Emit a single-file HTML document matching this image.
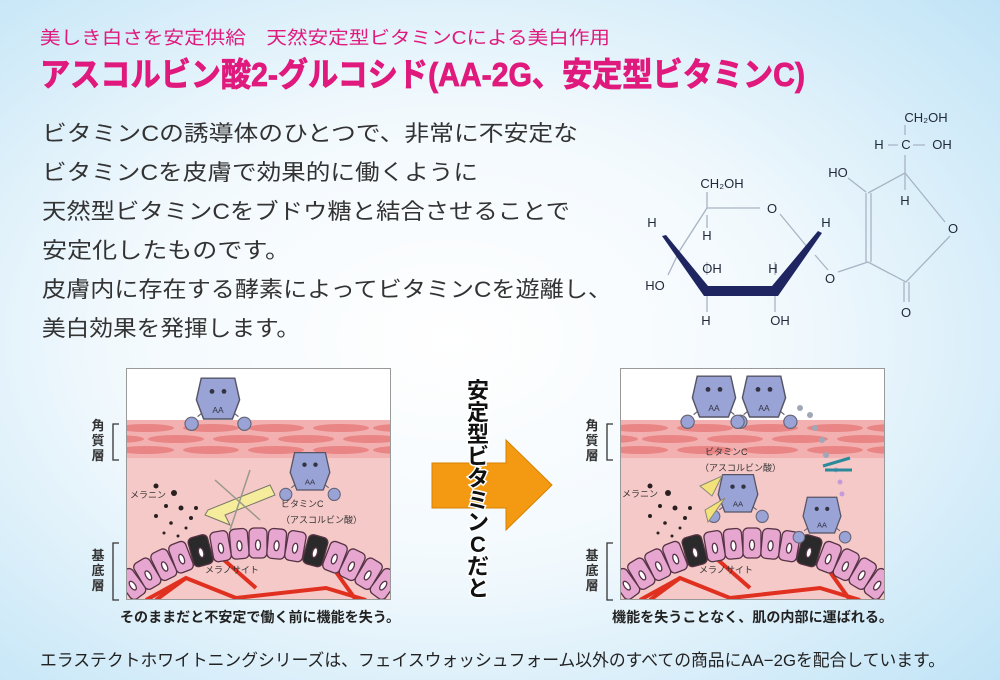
<!DOCTYPE html>
<html><head><meta charset="utf-8">
<style>
html,body{margin:0;padding:0;width:1000px;height:680px;overflow:hidden}
svg{display:block}
text{font-family:"Liberation Sans","Noto Sans CJK JP",sans-serif}
</style></head><body>
<svg width="1000" height="680" viewBox="0 0 1000 680" xmlns="http://www.w3.org/2000/svg">
<defs>
<radialGradient id="bg" cx="0.45" cy="0.5" r="0.75">
<stop offset="0" stop-color="#ffffff"/><stop offset="0.45" stop-color="#f2f9fd"/><stop offset="1" stop-color="#bfe3f6"/>
</radialGradient>
<clipPath id="pc"><rect x="0" y="0" width="265" height="232"/></clipPath>
<g id="char">
<circle cx="-22" cy="24" r="5.5" fill="#9aa3d6" stroke="#667" stroke-width="1"/>
<circle cx="22" cy="24" r="5.5" fill="#9aa3d6" stroke="#667" stroke-width="1"/>
<path d="M-17 18 L-12 14 M17 18 L12 14" stroke="#667"/>
<path d="M-14 -14 L14 -14 L18 4 L12 20 L-12 20 L-18 4 Z" fill="#9aa3d6" stroke="#556" stroke-width="1.2"/>
<circle cx="-5" cy="-3" r="2" fill="#334"/><circle cx="5" cy="-3" r="2" fill="#334"/>
<text x="0" y="15" font-size="7" text-anchor="middle" fill="#334">AA</text>
</g>
<g id="panel">
<g clip-path="url(#pc)">
<rect x="0" y="0" width="265" height="232" fill="#f6c9c9"/>
<rect x="0" y="0" width="265" height="52" fill="#fff"/>
<rect x="0" y="52" width="265" height="38" fill="#f3b0b0"/>
<g fill="#e98585">
<ellipse cx="20" cy="60" rx="28" ry="4"/><ellipse cx="85" cy="60" rx="28" ry="4"/><ellipse cx="150" cy="60" rx="28" ry="4"/><ellipse cx="215" cy="60" rx="28" ry="4"/><ellipse cx="275" cy="60" rx="28" ry="4"/>
<ellipse cx="50" cy="71" rx="28" ry="4"/><ellipse cx="115" cy="71" rx="28" ry="4"/><ellipse cx="180" cy="71" rx="28" ry="4"/><ellipse cx="245" cy="71" rx="28" ry="4"/><ellipse cx="-10" cy="71" rx="28" ry="4"/>
<ellipse cx="20" cy="82" rx="28" ry="4"/><ellipse cx="85" cy="82" rx="28" ry="4"/><ellipse cx="150" cy="82" rx="28" ry="4"/><ellipse cx="215" cy="82" rx="28" ry="4"/><ellipse cx="275" cy="82" rx="28" ry="4"/>
</g>
<g stroke="#e03020" stroke-width="4" fill="none">
<path d="M30 232 L60 210 L110 230 L200 220 L240 232"/><path d="M90 185 L130 220 M200 190 L230 232 M60 210 L20 232"/>
</g>
<g stroke="#553344" stroke-width="1.3">
<g transform="translate(5.6 216) rotate(-36)"><rect x="-9" y="-15" width="18" height="30" rx="5" fill="#e6a6d0"/><ellipse cx="0" cy="2" rx="2.5" ry="5" fill="#fff"/></g>
<g transform="translate(21.3 205.7) rotate(-31)"><rect x="-9" y="-15" width="18" height="30" rx="5" fill="#e6a6d0"/><ellipse cx="0" cy="2" rx="2.5" ry="5" fill="#fff"/></g>
<g transform="translate(37.8 196.7) rotate(-26)"><rect x="-9" y="-15" width="18" height="30" rx="5" fill="#e6a6d0"/><ellipse cx="0" cy="2" rx="2.5" ry="5" fill="#fff"/></g>
<g transform="translate(55 189.2) rotate(-21)"><rect x="-9" y="-15" width="18" height="30" rx="5" fill="#e6a6d0"/><ellipse cx="0" cy="2" rx="2.5" ry="5" fill="#fff"/></g>
<g transform="translate(74.6 182.7) rotate(-15.5)"><rect x="-10" y="-15" width="20" height="30" rx="5" fill="#2a2a2a"/><ellipse cx="0" cy="2" rx="2.5" ry="5" fill="#fff"/></g>
<g transform="translate(94.6 178.2) rotate(-10)"><rect x="-9" y="-15" width="18" height="30" rx="5" fill="#e6a6d0"/><ellipse cx="0" cy="2" rx="2.5" ry="5" fill="#fff"/></g>
<g transform="translate(113.3 175.8) rotate(-5)"><rect x="-9" y="-15" width="18" height="30" rx="5" fill="#e6a6d0"/><ellipse cx="0" cy="2" rx="2.5" ry="5" fill="#fff"/></g>
<g transform="translate(132 175)"><rect x="-9" y="-15" width="18" height="30" rx="5" fill="#e6a6d0"/><ellipse cx="0" cy="2" rx="2.5" ry="5" fill="#fff"/></g>
<g transform="translate(150.7 175.8) rotate(5)"><rect x="-9" y="-15" width="18" height="30" rx="5" fill="#e6a6d0"/><ellipse cx="0" cy="2" rx="2.5" ry="5" fill="#fff"/></g>
<g transform="translate(169.4 178.2) rotate(10)"><rect x="-9" y="-15" width="18" height="30" rx="5" fill="#e6a6d0"/><ellipse cx="0" cy="2" rx="2.5" ry="5" fill="#fff"/></g>
<g transform="translate(189.4 182.7) rotate(15.5)"><rect x="-10" y="-15" width="20" height="30" rx="5" fill="#2a2a2a"/><ellipse cx="0" cy="2" rx="2.5" ry="5" fill="#fff"/></g>
<g transform="translate(209 189.2) rotate(21)"><rect x="-9" y="-15" width="18" height="30" rx="5" fill="#e6a6d0"/><ellipse cx="0" cy="2" rx="2.5" ry="5" fill="#fff"/></g>
<g transform="translate(226.2 196.7) rotate(26)"><rect x="-9" y="-15" width="18" height="30" rx="5" fill="#e6a6d0"/><ellipse cx="0" cy="2" rx="2.5" ry="5" fill="#fff"/></g>
<g transform="translate(242.7 205.7) rotate(31)"><rect x="-9" y="-15" width="18" height="30" rx="5" fill="#e6a6d0"/><ellipse cx="0" cy="2" rx="2.5" ry="5" fill="#fff"/></g>
<g transform="translate(258.4 216) rotate(36)"><rect x="-9" y="-15" width="18" height="30" rx="5" fill="#e6a6d0"/><ellipse cx="0" cy="2" rx="2.5" ry="5" fill="#fff"/></g>
</g>
<g fill="#2a2020">
<circle cx="30" cy="118" r="2.5"/><circle cx="48" cy="125" r="3"/><circle cx="40" cy="138" r="2"/><circle cx="55" cy="140" r="2.5"/><circle cx="30" cy="148" r="2"/><circle cx="65" cy="150" r="2"/><circle cx="45" cy="155" r="1.8"/><circle cx="38" cy="165" r="1.5"/><circle cx="52" cy="168" r="1.5"/><circle cx="60" cy="160" r="1.5"/><circle cx="70" cy="140" r="2"/>
</g>
</g>
<rect x="0.5" y="0.5" width="264" height="231" fill="none" stroke="#999" stroke-width="1"/>
</g>
</defs>
<rect width="1000" height="680" fill="url(#bg)"/>

<text x="40" y="44" font-size="18" fill="#e0197d" textLength="570" lengthAdjust="spacingAndGlyphs">美しき白さを安定供給　天然安定型ビタミンCによる美白作用</text>
<text x="40" y="86" font-size="33" font-weight="bold" fill="#e0197d" stroke="#e0197d" stroke-width="0.8" textLength="765" lengthAdjust="spacingAndGlyphs">アスコルビン酸2-グルコシド(AA-2G、安定型ビタミンC)</text>

<g font-size="22" fill="#333">
<text x="42" y="141" textLength="536" lengthAdjust="spacingAndGlyphs">ビタミンCの誘導体のひとつで、非常に不安定な</text>
<text x="42" y="180" textLength="436" lengthAdjust="spacingAndGlyphs">ビタミンCを皮膚で効果的に働くように</text>
<text x="42" y="219" textLength="528" lengthAdjust="spacingAndGlyphs">天然型ビタミンCをブドウ糖と結合させることで</text>
<text x="42" y="258" textLength="248" lengthAdjust="spacingAndGlyphs">安定化したものです。</text>
<text x="42" y="297" textLength="570" lengthAdjust="spacingAndGlyphs">皮膚内に存在する酵素によってビタミンCを遊離し、</text>
<text x="42" y="336" textLength="258" lengthAdjust="spacingAndGlyphs">美白効果を発揮します。</text>
</g>

<!-- chemistry -->
<g stroke="#a8b4c4" stroke-width="1.3" fill="none">
<path d="M707 192 L707 208 L760 208"/><path d="M780 214 L808 248"/><path d="M707 208 L680 250 L668 275"/>
<path d="M707 215 L707 228"/><path d="M707 292 L707 312"/><path d="M775 292 L775 312"/><path d="M775 262 L775 275 M707 262 L707 275"/>
<path d="M815 255 L828 270"/><path d="M838 272 L868 262"/>
<path d="M866 193 L866 262 M871 193 L871 262"/>
<path d="M868 262 L906 282 L950 236"/><path d="M868 193 L905 173 L945 222"/>
<path d="M905 173 L905 155 M905 173 L905 190"/><path d="M905 135 L905 125"/>
<path d="M888 145 L898 145 M913 145 L925 145"/>
<path d="M904 282 L904 302 M909 282 L909 302"/><path d="M848 178 L866 192"/>
</g>
<path d="M662 236 L666 235 L708 286 L772 286 L818 231 L822 233 L778 296 L704 296 Z" fill="#1e2560"/>
<g font-size="13" fill="#222a3a" text-anchor="middle">
<text x="722" y="188">CH₂OH</text><text x="772" y="213">O</text><text x="826" y="227">H</text><text x="652" y="227">H</text>
<text x="707" y="240">H</text><text x="655" y="290">HO</text><text x="712" y="273">OH</text><text x="773" y="273">H</text>
<text x="706" y="325">H</text><text x="780" y="325">OH</text><text x="830" y="283">O</text>
<text x="838" y="177">HO</text><text x="905" y="205">H</text><text x="953" y="233">O</text><text x="906" y="317">O</text>
<text x="926" y="122">CH₂OH</text><text x="879" y="149">H</text><text x="906" y="149">C</text><text x="942" y="149">OH</text>
</g>

<!-- panels -->
<use href="#panel" transform="translate(126 368)"/>
<use href="#panel" transform="translate(620 368)"/>

<!-- left panel extras -->
<use href="#char" transform="translate(218 395) scale(1.2)"/>
<use href="#char" transform="translate(310 468) scale(1.1)"/>
<path d="M208 510 L270 485 L275 495 L225 515 L230 525 L205 515 Z" fill="#f5ec9c" stroke="#776" stroke-width="1"/>
<path d="M215 480 L260 520 M250 470 L230 530" stroke="#998" stroke-width="1.5"/>
<g font-size="9" fill="#333"><text x="130" y="498">メラニン</text><text x="281" y="507">ビタミンC</text><text x="281" y="523">（アスコルビン酸）</text><text x="205" y="573">メラノサイト</text></g>

<!-- right panel extras -->
<use href="#char" transform="translate(714 393) scale(1.2)"/>
<use href="#char" transform="translate(764 393) scale(1.2)"/>
<use href="#char" transform="translate(738 490) scale(1.1)"/>
<use href="#char" transform="translate(822 512) scale(1.05)"/>
<g fill="#a0a8b8"><circle cx="800" cy="408" r="3"/><circle cx="810" cy="415" r="3"/><circle cx="815" cy="428" r="3"/><circle cx="822" cy="440" r="3"/><circle cx="826" cy="455" r="3"/></g>
<g fill="#c59ad8"><circle cx="836" cy="470" r="2.5"/><circle cx="840" cy="482" r="2.5"/><circle cx="842" cy="494" r="2.5"/></g>
<path d="M823 466 L850 458 M825 470 L852 470" stroke="#2a8a9a" stroke-width="3"/>
<path d="M700 486 L722 476 L712 496 Z M705 510 L725 498 L708 522 Z" fill="#f3e27a" stroke="#887" stroke-width="1"/>
<g font-size="9" fill="#333"><text x="705" y="455">ビタミンC</text><text x="700" y="471">（アスコルビン酸）</text><text x="622" y="497">メラニン</text><text x="699" y="573">メラノサイト</text></g>

<!-- bracket labels -->
<g font-size="13" font-weight="bold" fill="#333" text-anchor="middle">
<text x="98" y="430">角</text><text x="98" y="445">質</text><text x="98" y="460">層</text>
<text x="98" y="560">基</text><text x="98" y="575">底</text><text x="98" y="590">層</text>
<text x="592" y="430">角</text><text x="592" y="445">質</text><text x="592" y="460">層</text>
<text x="592" y="560">基</text><text x="592" y="575">底</text><text x="592" y="590">層</text>
</g>
<g stroke="#333" stroke-width="1.3" fill="none">
<path d="M119 424 L113 424 L113 460 L119 460"/><path d="M119 543 L113 543 L113 600 L119 600"/>
<path d="M613 424 L607 424 L607 460 L613 460"/><path d="M613 543 L607 543 L607 600 L613 600"/>
</g>

<!-- arrow -->
<path d="M432 463 L506 463 L506 440 L552 485 L506 530 L506 508 L432 508 Z" fill="#f39a12" stroke="#d88000" stroke-width="1"/>
<g font-size="22" font-weight="bold" fill="#111" stroke="#fff" stroke-width="3" paint-order="stroke" text-anchor="middle">
<text x="478" y="398">安</text><text x="478" y="420">定</text><text x="478" y="442">型</text><text x="478" y="464">ビ</text><text x="478" y="486">タ</text><text x="478" y="508">ミ</text><text x="478" y="530">ン</text><text x="478" y="552">C</text><text x="478" y="574">だ</text><text x="478" y="596">と</text>
</g>

<g font-size="14" fill="#222" font-weight="bold">
<text x="120" y="622" textLength="280" lengthAdjust="spacingAndGlyphs">そのままだと不安定で働く前に機能を失う。</text>
<text x="612" y="622" textLength="281" lengthAdjust="spacingAndGlyphs">機能を失うことなく、肌の内部に運ばれる。</text>
</g>
<text x="40" y="666" font-size="17" fill="#222" textLength="905" lengthAdjust="spacingAndGlyphs">エラステクトホワイトニングシリーズは、フェイスウォッシュフォーム以外のすべての商品にAA−2Gを配合しています。</text>
</svg>
</body></html>
